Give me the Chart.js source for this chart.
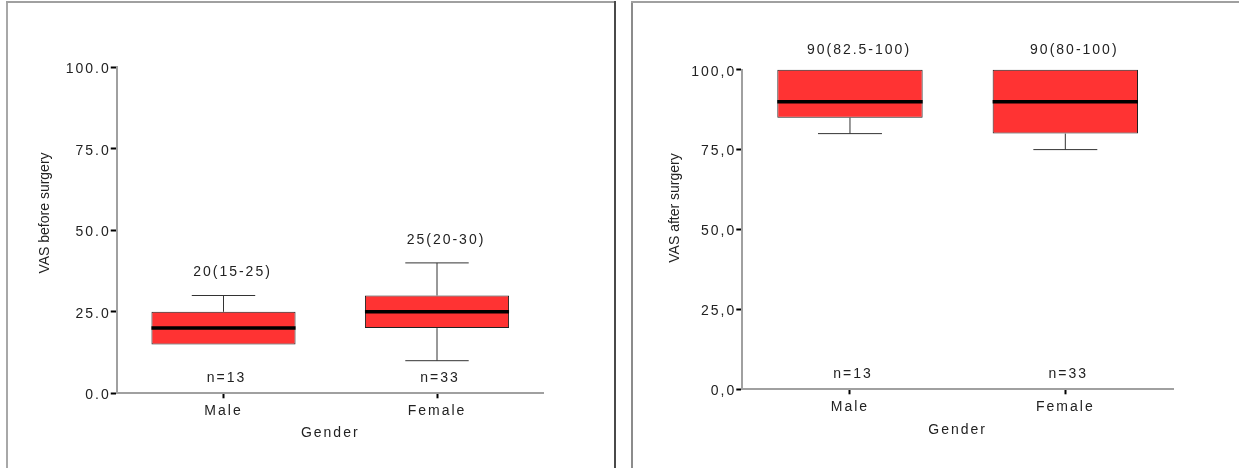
<!DOCTYPE html>
<html>
<head>
<meta charset="utf-8">
<script src="https://cdn.jsdelivr.net/npm/chart.js@4.4.1/dist/chart.umd.min.js"></script>
<style>
  html, body { margin: 0; padding: 0; background: #fff; }
  body { width: 1239px; height: 468px; position: relative; overflow: hidden; }
  canvas { position: absolute; top: 0; }
  #before { left: 0; }
  #after { left: 620px; }
  .line { position: absolute; }
</style>
</head>
<body>
<canvas id="before" width="620" height="468"></canvas>
<canvas id="after" width="619" height="468"></canvas>
<div class="line" style="left:6px;top:1px;width:2px;height:467px;background:#a8a8a8"></div>
<div class="line" style="left:6px;top:1px;width:610px;height:2px;background:#a0a0a0"></div>
<div class="line" style="left:614px;top:1px;width:2px;height:467px;background:#4a4a4a"></div>
<div class="line" style="left:631px;top:1px;width:2px;height:467px;background:#8c8c8c"></div>
<div class="line" style="left:631px;top:1px;width:608px;height:2px;background:#a0a0a0"></div>
<script>
const genders = ['Male', 'Female'];
const nLabels = ['n=13', 'n=33'];

// VAS before surgery
const beforeMin = [15, 10];
const beforeQ1 = [15, 20];
const beforeMedian = [20, 25];
const beforeQ3 = [25, 30];
const beforeMax = [30, 40];
const beforeLabels = ['20(15-25)', '25(20-30)'];
const beforeTicks = ['0.0', '25.0', '50.0', '75.0', '100.0'];

// VAS after surgery
const afterMin = [80, 75];
const afterQ1 = [85, 80];
const afterMedian = [90, 90];
const afterQ3 = [100, 100];
const afterMax = [100, 100];
const afterLabels = ['90(82.5-100)', '90(80-100)'];
const afterTicks = ['0,0', '25,0', '50,0', '75,0', '100,0'];

const FONT = '"Liberation Sans", Arial, sans-serif';
Chart.defaults.font.family = FONT;
Chart.defaults.font.size = 14;
Chart.defaults.color = '#222';

// whiskers, medians and the text around the boxes
const boxPlugin = {
  id: 'boxExtras',
  beforeDraw(chart) {
    chart.ctx.letterSpacing = '2px';
  },
  afterDatasetsDraw(chart, args, opts) {
    const ctx = chart.ctx;
    const y = chart.scales.y;
    const meta = chart.getDatasetMeta(0);
    ctx.save();
    meta.data.forEach((bar, i) => {
      const {x, width} = bar.getProps(['x', 'width'], true);
      const cap = width * 0.44;
      const yMin = y.getPixelForValue(opts.min[i]);
      const yMax = y.getPixelForValue(opts.max[i]);
      const yQ1 = y.getPixelForValue(opts.q1[i]);
      const yQ3 = y.getPixelForValue(opts.q3[i]);
      const yMed = y.getPixelForValue(opts.median[i]);

      ctx.strokeStyle = '#333';
      ctx.lineWidth = 1;
      ctx.beginPath();
      if (opts.max[i] > opts.q3[i]) {
        ctx.moveTo(x, yQ3); ctx.lineTo(x, yMax);
        ctx.moveTo(x - cap / 2, yMax); ctx.lineTo(x + cap / 2, yMax);
      }
      if (opts.min[i] < opts.q1[i]) {
        ctx.moveTo(x, yQ1); ctx.lineTo(x, yMin);
        ctx.moveTo(x - cap / 2, yMin); ctx.lineTo(x + cap / 2, yMin);
      }
      ctx.stroke();

      ctx.strokeStyle = '#000';
      ctx.lineWidth = 3.5;
      ctx.beginPath();
      ctx.moveTo(x - width / 2, yMed);
      ctx.lineTo(x + width / 2, yMed);
      ctx.stroke();

      ctx.fillStyle = '#222';
      ctx.font = '14px ' + FONT;
      ctx.textAlign = 'center';
      ctx.textBaseline = 'middle';
      ctx.fillText(opts.labels[i], x + 9, yMax - opts.labelGap);
      ctx.fillText(nLabels[i], x + 3, y.getPixelForValue(0) - 15);
    });

    // y axis title
    ctx.letterSpacing = '0px';
    ctx.translate(opts.titleX, opts.titleY);
    ctx.rotate(-Math.PI / 2);
    ctx.fillText(opts.title, 0, 0);
    ctx.restore();
  }
};

function makeChart(id, cfg) {
  return new Chart(document.getElementById(id), {
    type: 'bar',
    data: {
      labels: genders,
      datasets: [{
        data: cfg.q1.map((v, i) => [v, cfg.q3[i]]),
        backgroundColor: '#ff3333',
        borderColor: '#222',
        borderWidth: 1,
        borderSkipped: false,
        barPercentage: 0.675,
        categoryPercentage: 1,
        clip: false
      }]
    },
    options: {
      responsive: false,
      animation: false,
      devicePixelRatio: 1,
      layout: { padding: { left: 0, top: cfg.top, right: cfg.right, bottom: 0 } },
      plugins: {
        legend: { display: false },
        tooltip: { enabled: false },
        boxExtras: {
          min: cfg.min, q1: cfg.q1, median: cfg.median, q3: cfg.q3, max: cfg.max,
          labels: cfg.labels, labelGap: cfg.labelGap,
          title: cfg.title, titleX: cfg.titleX, titleY: cfg.titleY
        }
      },
      scales: {
        x: {
          grid: { offset: false, drawOnChartArea: false, tickLength: 5, tickWidth: 2, tickColor: '#000' },
          border: { color: '#a0a0a0', width: 2 },
          ticks: { padding: 4 },
          title: { display: true, text: 'Gender', padding: { top: 0, bottom: cfg.genderPad } },
          afterFit: s => { s.height = cfg.xHeight; }
        },
        y: {
          min: 0,
          max: 100,
          ticks: { stepSize: 25, padding: 0, labelOffset: 2, callback: (v, i) => cfg.ticks[i] },
          grid: { drawOnChartArea: false, tickLength: 6, tickWidth: 2, tickColor: '#000' },
          border: { color: '#a0a0a0', width: 2 },
          afterFit: s => { s.width = cfg.yWidth; }
        }
      }
    },
    plugins: [boxPlugin]
  });
}

makeChart('before', {
  min: beforeMin, q1: beforeQ1, median: beforeMedian, q3: beforeQ3, max: beforeMax,
  labels: beforeLabels, ticks: beforeTicks, labelGap: 23,
  title: 'VAS before surgery', titleX: 45, titleY: 213,
  top: 67.3, right: 76.25, yWidth: 116.75, xHeight: 74.7, genderPad: 26
});

makeChart('after', {
  min: afterMin, q1: afterQ1, median: afterMedian, q3: afterQ3, max: afterMax,
  labels: afterLabels, ticks: afterTicks, labelGap: 20,
  title: 'VAS after surgery', titleX: 55, titleY: 208,
  top: 69.7, right: 66, yWidth: 122.3, xHeight: 78.7, genderPad: 29.5
});
</script>
</body>
</html>
